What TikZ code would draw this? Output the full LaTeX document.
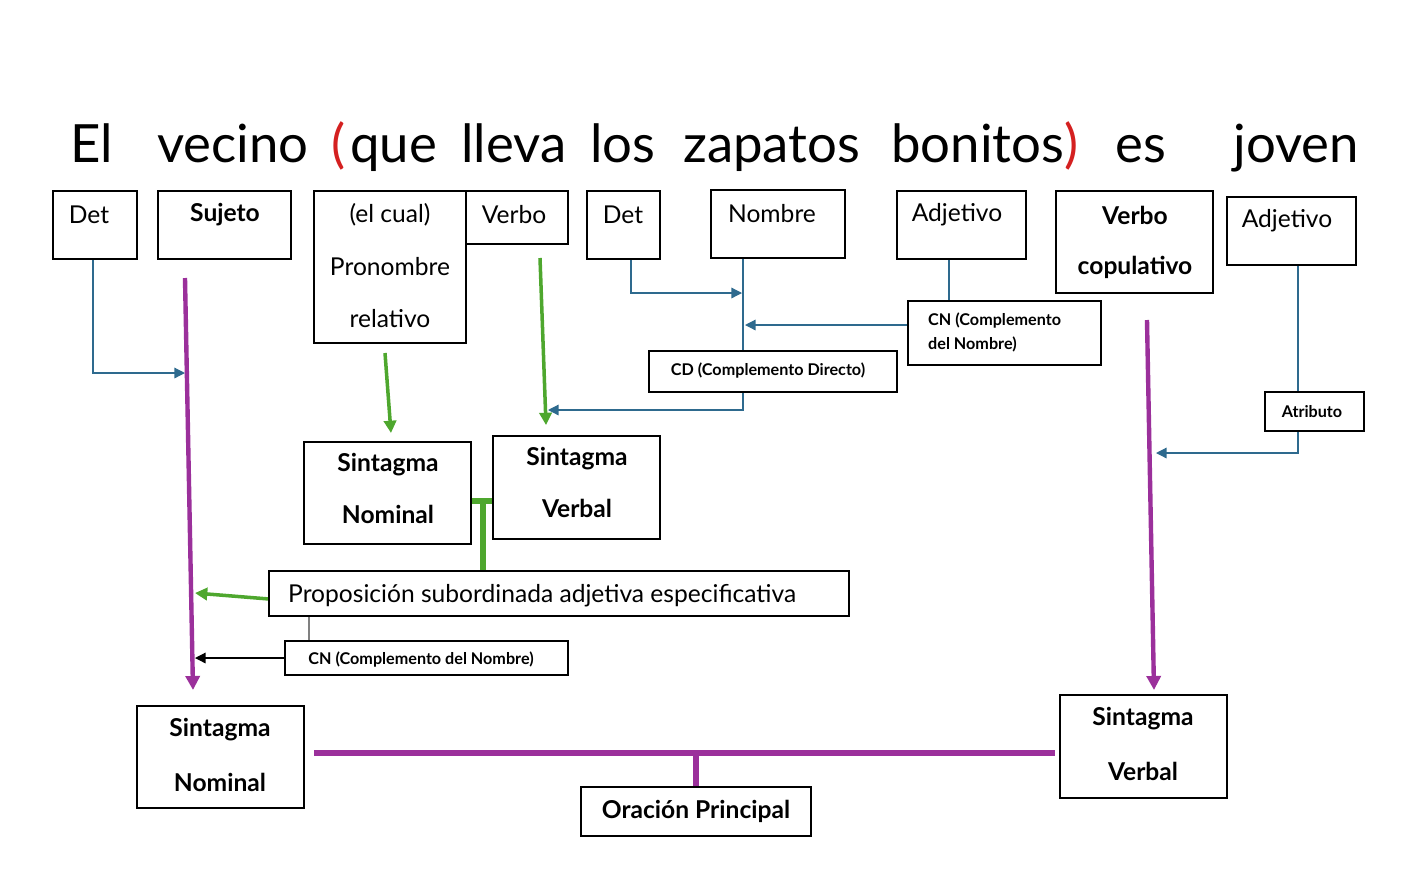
\documentclass[tikz,border=0pt]{standalone}
\usepackage{fontspec}
\setmainfont{Lato}
\usetikzlibrary{arrows.meta}
\definecolor{bl}{HTML}{2E6A8E}
\definecolor{pu}{HTML}{9B309B}
\definecolor{gr}{HTML}{4EA72E}
\definecolor{rd}{HTML}{D42020}
\begin{document}
\begin{tikzpicture}[x=0.02cm,y=-0.02cm,
 box/.style={draw,fill=white,line width=0.8pt,inner sep=0pt},
 t/.style={font=\fontsize{14}{17}\selectfont},
 tb/.style={font=\fontsize{14}{17}\selectfont\bfseries},
 ts/.style={font=\fontsize{9.2}{12}\selectfont\bfseries},
 w/.style={anchor=base west,inner sep=0pt,font=\fontsize{30}{36}\selectfont},
 blA/.style={draw=bl,line width=0.7pt,-{Triangle[length=6pt,width=6pt]}},
 puA/.style={draw=pu,line width=2.5pt,-{Triangle[length=8pt,width=8pt]}},
 grA/.style={draw=gr,line width=2pt,-{Triangle[length=7pt,width=7pt]}}]
\useasboundingbox (0,0) rectangle (1417,873);
% title
\node[w] (w1) at (70,162) {El};
\node[w] (w2) at (157,162) {vecino};
\node[w,text=rd] (w3) at (331,162) {(};
\node[w] (w4) at (350,162) {que};
\node[w] (w5) at (461,162) {lleva};
\node[w] (w6) at (590,162) {los};
\node[w] (w7) at (683,162) {zapatos};
\node[w] (w8) at (891,162) {bonitos};
\node[w,text=rd] (w9) at (1064,162) {)};
\node[w] (w10) at (1115,162) {es};
\node[w] (w11) at (1233,162) {joven};
% connectors (behind boxes)
\draw[blA] (93,259) -- (93,373) -- (185,373);
\draw[puA] (185,278) -- (193,690);
\draw[grA] (385,353) -- (391,433);
\draw[grA] (540,258) -- (546,425);
\draw[blA] (631,259) -- (631,293) -- (742,293);
\draw[blA] (743,259) -- (743,410) -- (548,410);
\draw[blA] (908,325) -- (745,325);
\draw[bl,line width=0.7pt] (949,259) -- (949,301);
\draw[bl,line width=0.7pt] (1298,265) -- (1298,392);
\draw[blA] (1298,431) -- (1298,453) -- (1156,453);
\draw[puA] (1147,320) -- (1154,690);
\draw[gr,line width=3pt] (471,501) -- (496,501) (483,501) -- (483,571);
\draw[grA] (269,599) -- (195,593);
\draw[gray,line width=0.7pt] (309,616) -- (309,641);
\draw[line width=0.7pt,-{Triangle[length=6pt,width=6pt]}] (285,658) -- (195,658);
\draw[pu,line width=3pt] (314,753) -- (1055,753) (696,753) -- (696,787);
% boxes
\draw[box] (53,191) rectangle (137,259); \node[t] (det1) at (89,215) {Det};
\draw[box] (158,191) rectangle (291,259); \node[tb] (suj) at (225,215) {Sujeto};
\draw[box] (314,191) rectangle (466,343);
\node[t] (pr1) at (390,215) {(el cual)};
\node[t] (pr2) at (390,267) {Pronombre};
\node[t] (pr3) at (390,319) {relativo};
\draw[box] (466,191) rectangle (568,244); \node[t] (verbo) at (514,215) {Verbo};
\draw[box] (587,191) rectangle (660,259); \node[t] (det2) at (623,215) {Det};
\draw[box] (711,190) rectangle (845,258); \node[t] (nom) at (772,214) {Nombre};
\draw[box] (897,191) rectangle (1026,259); \node[t] (adj1) at (957,215) {Adjetivo};
\draw[box] (1056,191) rectangle (1213,293);
\node[tb] (vc1) at (1135,215) {Verbo}; \node[tb] (vc2) at (1135,267) {copulativo};
\draw[box] (1227,197) rectangle (1356,265); \node[t] (adj2) at (1287,221) {Adjetivo};
\draw[box] (908,301) rectangle (1101,365);
\node[ts,anchor=west] (cn1) at (922,320) {CN (Complemento};
\node[ts,anchor=west] (cn2) at (922,344) {del Nombre)};
\draw[box] (649,351) rectangle (897,392); \node[ts] (cd) at (768,371) {CD (Complemento Directo)};
\draw[box] (1265,392) rectangle (1364,431); \node[ts] (atr) at (1312,412) {Atributo};
\draw[box] (304,442) rectangle (471,544);
\node[tb] (sn1) at (388,465) {Sintagma}; \node[tb] (sn2) at (388,514) {Nominal};
\draw[box] (493,436) rectangle (660,539);
\node[tb] (sv1) at (577,459) {Sintagma}; \node[tb] (sv2) at (577,508) {Verbal};
\draw[box] (269,571) rectangle (849,616);
\node[t,anchor=west] (prop) at (282,596) {Proposición subordinada adjetiva especificativa};
\draw[box] (285,641) rectangle (568,675); \node[ts] (cnb) at (421,659) {CN (Complemento del Nombre)};
\draw[box] (137,706) rectangle (304,808);
\node[tb] (snb1) at (220,730) {Sintagma}; \node[tb] (snb2) at (220,782) {Nominal};
\draw[box] (1060,695) rectangle (1227,798);
\node[tb] (svb1) at (1143,719) {Sintagma}; \node[tb] (svb2) at (1143,771) {Verbal};
\draw[box] (581,787) rectangle (811,836); \node[tb] (op) at (696,811) {Oración Principal};
\end{tikzpicture}
\end{document}
